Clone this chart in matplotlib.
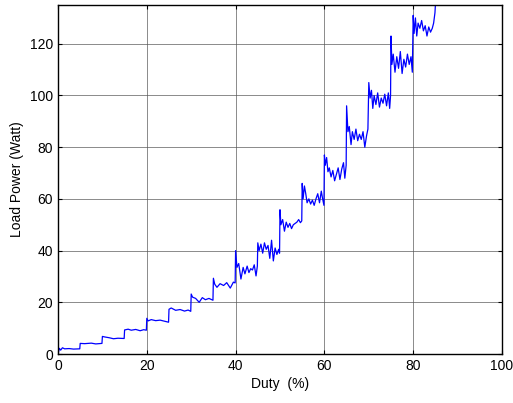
import matplotlib
matplotlib.use("Agg")
import matplotlib.pyplot as plt

plt.rcParams['font.family'] = ['Liberation Sans', 'DejaVu Sans']

duty = [
    0, 0.3, 0.6, 1.0, 1.5, 2.5, 3.5, 4.9,
    5.0, 6.0, 7.5, 8.5, 9.9,
    10.0, 10.5, 11.5, 12.5, 13.5, 14.9,
    15.0, 15.8, 16.5, 17.5, 18.5, 19.3, 19.9,
    20.0, 20.3, 21.0, 22.0, 23.0, 24.0, 24.9,
    25.0, 25.5, 26.5, 27.5, 28.5, 29.3, 29.9,
    30.0, 30.3, 31.0, 31.8, 32.5, 33.2, 34.0, 34.9,
    35.0, 35.3, 35.8, 36.5, 37.3, 38.0, 38.8, 39.5, 39.9,
    40.0, 40.3, 40.7, 41.2, 41.7, 42.1, 42.6, 43.0, 43.4, 43.8, 44.2, 44.6, 44.9,
    45.0, 45.3, 45.7, 46.1, 46.5, 46.9, 47.3, 47.7, 48.1, 48.5, 48.9, 49.3, 49.7, 49.9,
    50.0, 50.2, 50.6, 51.0, 51.4, 51.8, 52.2, 52.6, 53.0, 53.4, 53.8, 54.2, 54.6, 54.9,
    55.0, 55.2, 55.5, 55.8, 56.1, 56.5, 56.9, 57.3, 57.7, 58.1, 58.5, 58.9, 59.3, 59.6, 59.9,
    60.0, 60.2, 60.5, 60.8, 61.1, 61.5, 61.9, 62.3, 62.7, 63.1, 63.5, 63.9, 64.3, 64.6, 64.9,
    65.0, 65.3, 65.6, 66.0, 66.3, 66.7, 67.1, 67.5, 67.9, 68.3, 68.7, 69.1, 69.5, 69.8,
    70.0, 70.3, 70.6, 70.9, 71.2, 71.6, 72.0, 72.4, 72.8, 73.2, 73.6, 74.0, 74.4, 74.7, 74.9,
    75.0, 75.2, 75.5, 75.9, 76.3, 76.7, 77.1, 77.5, 77.9, 78.3, 78.7, 79.1, 79.5, 79.8,
    80.0, 80.2, 80.5, 80.8, 81.1, 81.5, 81.9, 82.3, 82.7, 83.1, 83.5, 83.9, 84.3, 84.6, 84.9, 85.1, 85.3,
]

power = [
    0, 2.2, 1.5, 2.4, 2.0, 2.1, 1.9, 2.0,
    4.1, 4.0, 4.2, 3.9, 4.1,
    6.8, 6.6, 6.3, 5.9, 6.1, 6.0,
    9.3, 9.6, 9.2, 9.5, 9.0, 9.4, 9.2,
    13.8, 12.8, 13.3, 12.9, 13.1, 12.7, 12.3,
    17.3, 17.8, 16.9, 17.2, 16.6, 17.0, 16.5,
    23.2, 22.0, 21.5, 20.0, 21.8, 21.0, 21.5, 20.8,
    29.3, 27.0, 25.8, 27.2, 26.5, 27.6, 25.5, 27.8, 27.5,
    40.0, 33.5, 35.0, 29.0, 33.5, 31.0, 34.0, 31.5, 33.0, 32.5, 34.5, 30.2, 34.0,
    43.0, 40.0, 42.5, 39.0, 43.0, 40.5, 42.0, 37.0, 44.0, 36.0, 41.0, 38.5, 40.5, 39.0,
    55.8, 50.0, 52.0, 47.5, 51.0, 49.0, 50.5, 48.5, 50.0, 50.5, 51.0, 52.0, 50.8, 51.5,
    66.0, 60.0, 65.0, 62.0, 58.5, 60.0, 58.0, 59.5, 57.5, 60.0, 62.0, 58.5, 63.0, 60.0, 57.5,
    77.0, 73.0, 76.0, 70.5, 72.0, 68.5, 71.0, 67.0, 69.5, 72.0, 67.5, 71.5, 74.0, 68.0, 73.0,
    96.0, 86.0, 88.0, 81.0, 86.0, 83.0, 87.0, 82.5, 85.0, 83.0, 86.0, 80.0, 84.5, 87.0,
    105.0, 99.0, 102.0, 95.0, 100.0, 96.5, 101.0, 95.5, 99.0, 97.0, 100.5, 96.0, 101.0, 95.0, 100.0,
    123.0, 112.0, 116.0, 109.0, 115.0, 110.5, 117.0, 108.5, 114.0, 111.0, 116.0, 112.0, 115.0, 109.0,
    131.0, 124.0, 130.0, 123.0, 128.0, 126.0, 129.0, 125.0, 127.0, 123.0, 126.5, 124.5, 126.0, 128.0, 132.0, 138.0, 142.0,
]

x_ticks = [0, 20, 40, 60, 80, 100]
y_ticks = [0, 20, 40, 60, 80, 100, 120]

fig = plt.figure(figsize=(5.13, 4.03), dpi=100)
ax = fig.add_axes([58/513, 49/403, 444/513, 349/403])
ax.plot(duty, power, color=(0, 0, 1), linewidth=0.9, drawstyle='steps-post' if False else 'default')
ax.set_xlim(0, 100)
ax.set_ylim(0, 135)
ax.set_xticks(x_ticks)
ax.set_yticks(y_ticks)
ax.grid(True, color='#555555', linewidth=0.6, linestyle='-', alpha=0.8)
ax.tick_params(direction='in', top=True, right=True, length=3, width=0.8, labelsize=10, colors='black')
for s in ax.spines.values():
    s.set_linewidth(1.0)
ax.set_xlabel('Duty  (%)', fontsize=10, labelpad=3)
ax.set_ylabel('Load Power (Watt)', fontsize=10, labelpad=4)
fig.savefig('out.png', dpi=100)
